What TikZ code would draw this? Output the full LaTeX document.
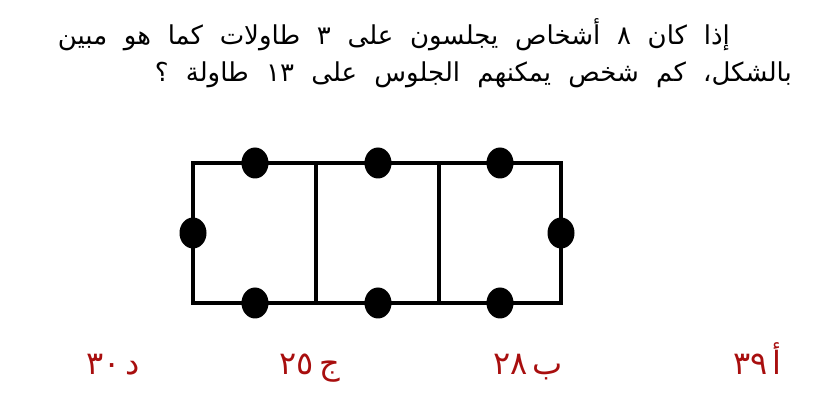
\documentclass[tikz,border=0pt]{standalone}
\usepackage{fontspec}
\TeXXeTstate=1
\newfontfamily\arabicfont[Script=Arabic]{DejaVu Sans}
\usetikzlibrary{shapes.geometric}
\definecolor{ansred}{HTML}{A80E0E}
\tikzset{
  seat/.style={ellipse, fill=black, draw=none, minimum width=27pt, minimum height=31pt, inner sep=0pt},
  tableline/.style={line width=3.2pt, line cap=rect},
  qtext/.style={inner sep=0pt, font=\arabicfont\fontsize{26}{32}\selectfont},
  ans/.style={inner sep=0pt, text=ansred, font=\arabicfont\fontsize{32}{38}\selectfont}
}
\begin{document}
\begin{tikzpicture}[x=1pt,y=1pt]
\useasboundingbox (0,0) rectangle (826,403);
% corners
\coordinate (tl) at (193,240);
\coordinate (tr) at (561,240);
\coordinate (bl) at (193,100);
\coordinate (br) at (561,100);
\coordinate (t1) at (316,240);
\coordinate (b1) at (316,100);
\coordinate (t2) at (439,240);
\coordinate (b2) at (439,100);
\draw[tableline] (tl) -- (tr) -- (br) -- (bl) -- cycle;
\draw[tableline] (t1) -- (b1);
\draw[tableline] (t2) -- (b2);
% seats
\node[seat] (s1) at (255,240) {};
\node[seat] (s2) at (378,240) {};
\node[seat] (s3) at (500,240) {};
\node[seat] (s4) at (255,100) {};
\node[seat] (s5) at (378,100) {};
\node[seat] (s6) at (500,100) {};
\node[seat] (s7) at (193,170) {};
\node[seat] (s8) at (561,170) {};
% question
\node[qtext, anchor=base east] (q1) at (730,358) {\hbox to 672pt{\beginR إذا كان ٨ أشخاص يجلسون على ٣ طاولات كما هو مبين\endR}};
\node[qtext, anchor=base east] (q2) at (792,321) {\hbox to 637pt{\beginR بالشكل، كم شخص يمكنهم الجلوس على ١٣ طاولة ؟\endR}};
% answers
\node[ans, anchor=base east] (a) at (782,28) {\beginR أ\hspace{5pt}٣٩\endR};
\node[ans, anchor=base east] (b) at (563,28) {\beginR ب\hspace{5pt}٢٨\endR};
\node[ans, anchor=base east] (c) at (340,28) {\beginR ج\hspace{5pt}٢٥\endR};
\node[ans, anchor=base east] (d) at (140,28) {\beginR د\hspace{5pt}٣٠\endR};
\end{tikzpicture}
\end{document}
